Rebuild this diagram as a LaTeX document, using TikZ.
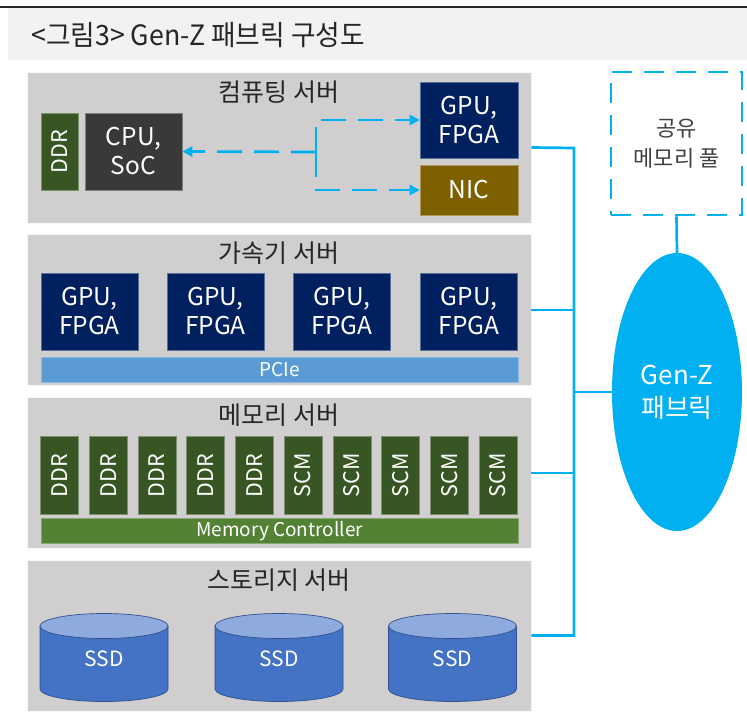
\documentclass[tikz,border=0pt]{standalone}
\usepackage{fontspec}
\setmainfont{Noto Sans CJK KR}
\usetikzlibrary{arrows.meta,shapes.geometric}

\definecolor{panelgray}{HTML}{D0CECE}
\definecolor{titlegray}{HTML}{F2F2F2}
\definecolor{fabric}{HTML}{00B0F0}
\definecolor{navy}{HTML}{002060}
\definecolor{ddrgreen}{HTML}{375623}
\definecolor{cpugray}{HTML}{3B3838}
\definecolor{nicbrown}{HTML}{7F6000}
\definecolor{pciblue}{HTML}{5B9BD5}
\definecolor{mcgreen}{HTML}{548235}
\definecolor{ssdbody}{HTML}{4472C4}
\definecolor{ssdtop}{HTML}{8FAADC}
\definecolor{ssdedge}{HTML}{2F528F}
\definecolor{labeltext}{HTML}{262626}

% font size and line pitch, both in pt
\newcommand{\fsz}[2]{\fontsize{#1pt}{#2pt}\selectfont}

\tikzset{
  panel/.style={fill=panelgray, draw=white!85!panelgray, line width=0.8pt,
    minimum width=504pt, minimum height=151pt, inner sep=0pt},
  plabel/.style={text=labeltext, font=\fsz{25}{30}, inner sep=0pt},
  chip/.style={draw=white!35!#1, line width=0.6pt, fill=#1, text=white,
    align=center, inner sep=0pt, font=\fsz{24.5}{29}},
  module/.style={chip=ddrgreen, rotate=90, minimum width=78pt,
    minimum height=38pt, font=\fsz{21.5}{26}},
  busbar/.style={draw=white!30!#1, line width=0.6pt, fill=#1, text=white,
    inner sep=0pt, minimum width=477pt, minimum height=25pt, font=\fsz{19}{23}},
  dasharrow/.style={draw=fabric, line width=2.7pt, dash pattern=on 25pt off 12pt,
    -{Triangle[length=10pt,width=10pt]}},
  fabricline/.style={draw=fabric, line width=2.7pt},
}

\begin{document}
\begin{tikzpicture}[x=1pt,y=-1pt]
\useasboundingbox (0,0) rectangle (747,712);

% heading bar
\fill[titlegray] (8,8) rectangle (747,60);
\draw[black!85, line width=1.2pt] (0,7) -- (747,7);
\node[anchor=west, inner sep=0pt, text=black!85, font=\fsz{28}{33}] (title) at (31,35)
  {\scalebox{0.955}[1]{<그림3> Gen-Z 패브릭 구성도}};

% ---------- compute server ----------
\node[panel] (panelC) at (279,147.5) {};
\node[plabel] (labC) at (279,92) {컴퓨팅 서버};
\node[chip=ddrgreen, rotate=90, minimum width=77pt, minimum height=37pt, font=\fsz{21.5}{26}]
  (ddrC) at (59.5,151.5) {DDR};
\node[chip=cpugray, minimum width=97pt, minimum height=77pt] (cpu) at (133.5,151.5)
  {CPU,\\SoC};
\node[chip=navy, minimum width=98pt, minimum height=76pt] (gpuC) at (469,120)
  {GPU,\\FPGA};
\node[chip=nicbrown, minimum width=98pt, minimum height=50pt] (nic) at (469,190)
  {NIC};
\coordinate (hub) at (316,152);
\draw[dasharrow] (hub) -- (cpu.east);
\draw[dasharrow] (hub) |- (gpuC.west);
\draw[dasharrow] (hub) |- (nic.west);

% ---------- accelerator server ----------
\node[panel] (panelA) at (279,310) {};
\node[plabel] (labA) at (279,253) {가속기 서버};
\foreach \i/\x in {1/89.5, 2/215.5, 3/342, 4/469}
  \node[chip=navy, minimum width=97pt, minimum height=77pt] (gpuA\i) at (\x,311.5)
    {GPU,\\FPGA};
\node[busbar=pciblue] (pcie) at (279.5,370) {PCIe};

% ---------- memory server ----------
\node[panel] (panelM) at (279,473) {};
\node[plabel] (labM) at (279,415) {메모리 서버};
\foreach \i in {0,...,4}
  \node[module] (ddrM\i) at (59.5+48.72*\i,475.5) {DDR};
\foreach \i in {5,...,9}
  \node[module] (scm\i) at (59.5+48.72*\i,475.5) {SCM};
\node[busbar=mcgreen] (memctl) at (279.5,531) {Memory Controller};

% ---------- storage server ----------
\node[panel] (panelS) at (279,635.5) {};
\node[plabel] (labS) at (279,580) {스토리지 서버};
\foreach \i/\cx in {1/104, 2/279, 3/452.5} {
  \filldraw[fill=ssdbody, draw=ssdedge, line width=0.7pt]
    (\cx-64,626) -- (\cx-64,689)
    arc[start angle=180, end angle=360, x radius=64pt, y radius=12.5pt]
    -- (\cx+64,626) -- cycle;
  \filldraw[fill=ssdtop, draw=ssdedge, line width=0.7pt]
    (\cx,626) ellipse[x radius=64pt, y radius=12.5pt];
  \node[text=white, inner sep=0pt, font=\fsz{21}{25}] (ssd\i) at (\cx,659) {SSD};
}

% ---------- fabric ----------
\node[draw=fabric, line width=2.7pt, dash pattern=on 20pt off 12pt,
  minimum width=131pt, minimum height=143pt, align=center, text=black!75,
  font=\fsz{22}{30}] (pool) at (676.5,143.5) {공유\\메모리 풀};
\node[ellipse, fill=fabric, inner sep=0pt, minimum width=130pt, minimum height=278pt,
  text=white, align=center, font=\fsz{26}{33}] (genz) at (677,392) {Gen-Z\\패브릭};
\draw[fabricline] (pool.south) -- (genz.north);

\coordinate (busTop) at (574,148);
\coordinate (busBot) at (574,635.5);
\draw[fabricline] (panelC.east) -- (busTop) -- (busBot) -- (panelS.east);
\draw[fabricline] (panelA.east) -- (panelA.east -| busTop);
\draw[fabricline] (panelM.east) -- (panelM.east -| busTop);
\draw[fabricline] (genz.west -| busTop) -- (genz.west);
\end{tikzpicture}
\end{document}
